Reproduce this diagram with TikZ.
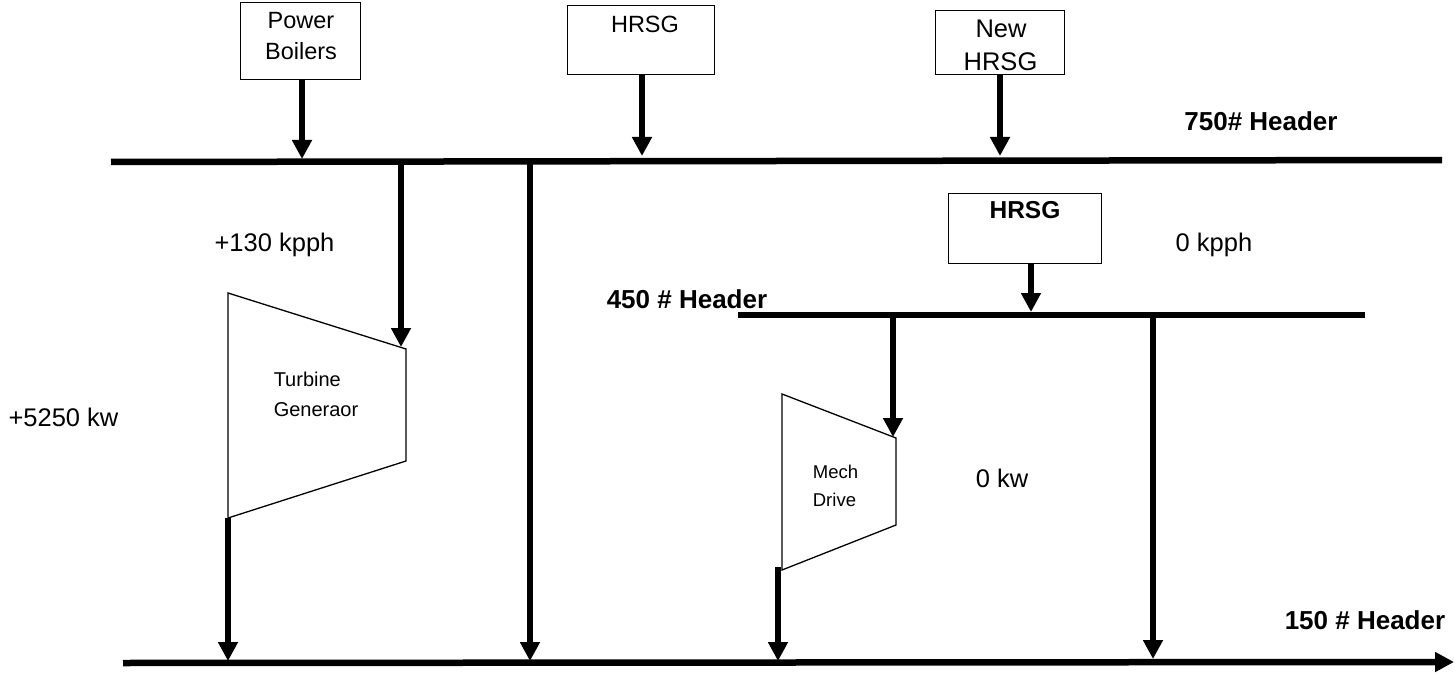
\documentclass[tikz,border=0pt]{standalone}
\usepackage{fontspec}
\setmainfont{Liberation Sans}
\usetikzlibrary{arrows.meta}
\tikzset{
  bx/.style={draw=black,line width=1.3pt,fill=white,inner sep=0pt,anchor=north west},
  lbl/.style={font=\fontsize{25.5}{31}\selectfont,align=center,inner sep=0pt,text=black},
  boxlbl/.style={font=\fontsize{23.5}{31}\selectfont,align=center,inner sep=0pt,text=black},
  boldlbl/.style={font=\fontsize{26}{31}\selectfont\bfseries,inner sep=0pt,text=black},
  small/.style={font=\fontsize{20}{30}\selectfont,align=left,inner sep=0pt,text=black},
  smallb/.style={font=\fontsize{18.5}{28.5}\selectfont,align=left,inner sep=0pt,text=black},
  bus/.style={line width=6.5pt,black},
  flow/.style={line width=6.5pt,black,-{Triangle[width=19pt,length=19pt]}},
  turb/.style={draw=black,line width=1.3pt,fill=white,line join=miter},
}
\begin{document}
\begin{tikzpicture}[x=1pt,y=-1pt]
\useasboundingbox (0,0) rectangle (1454,674);
% buses
\coordinate (h750a) at (111,162);
\coordinate (h750b) at (1442,160);
\coordinate (h450a) at (738,315);
\coordinate (h450b) at (1365,315);
\coordinate (h150a) at (123,663);
\coordinate (h150b) at (1454,662);
\coordinate (t750p) at (302,159);
\coordinate (t750h) at (642,156);
\coordinate (t750n) at (1000,156);
\coordinate (t450h) at (1031,312);
\coordinate (s750a) at (401,162);
\coordinate (s750b) at (530,162);
\coordinate (e150b) at (530,661);
\coordinate (s450a) at (893,315);
\coordinate (s450b) at (1153,315);
\coordinate (e150d) at (1153,659);
\coordinate (e150t) at (228,661);
\coordinate (e150m) at (778,661);
% turbines
\coordinate (ta) at (228,293);
\coordinate (tb) at (406,349);
\coordinate (tc) at (406,461);
\coordinate (td) at (228,518);
\coordinate (ma) at (782,394);
\coordinate (mb) at (896,438);
\coordinate (mc) at (896,525);
\coordinate (mdd) at (782,570);
\coordinate (tIn) at (401,347);
\coordinate (mIn) at (893,437);
\coordinate (tOut) at (228,518);
\coordinate (mOut) at (778,567);
\draw[turb] (ta) -- (tb) -- (tc) -- (td) -- cycle;
\draw[turb] (ma) -- (mb) -- (mc) -- (mdd) -- cycle;
% boxes
\node[bx,minimum width=120pt,minimum height=77pt] (pb) at (240,2) {};
\node[bx,minimum width=147pt,minimum height=69pt] (hrsgA) at (567,5) {};
\node[bx,minimum width=129pt,minimum height=64pt] (hrsgN) at (935,10) {};
\node[bx,minimum width=153pt,minimum height=70pt] (hrsgB) at (948,193) {};
% box labels
\node[boxlbl] (pbt) at (301,36.5) {Power\\Boilers};
\node[boxlbl] (hAt) at (645,24) {HRSG};
\node[lbl] (hNt1) at (1001,29) {New};
\node[lbl] (hNt2) at (1000.5,62) {HRSG};
\node[boldlbl,font=\fontsize{24.5}{28}\selectfont\bfseries] (hBt) at (1025,210) {HRSG};
% buses
\draw[bus] (h750a) -- (h750b);
\draw[bus] (h450a) -- (h450b);
\draw[flow] (h150a) -- (h150b);
% flows
\draw[flow] (pb.south -| t750p) -- (t750p);
\draw[flow] (hrsgA.south -| t750h) -- (t750h);
\draw[flow] (hrsgN.south -| t750n) -- (t750n);
\draw[flow] (hrsgB.south -| t450h) -- (t450h);
\draw[flow] (s750a) -- (tIn);
\draw[flow] (s750b) -- (e150b);
\draw[flow] (s450a) -- (mIn);
\draw[flow] (s450b) -- (e150d);
\draw[flow] (tOut) -- (e150t);
\draw[flow] (mOut) -- (e150m);
% labels
\node[boldlbl] (l750) at (1261,121) {750\# Header};
\node[boldlbl] (l450) at (687,299) {450 \# Header};
\node[boldlbl] (l150) at (1365,620) {150 \# Header};
\node[lbl] (k130) at (274.5,245) {+130 kpph};
\node[lbl] (k0) at (1214,245) {0 kpph};
\node[lbl] (kw5250) at (63.5,417) {+5250 kw};
\node[lbl] (kw0) at (1002,478) {0 kw};
\node[small] (tg) at (316,394) {Turbine\\Generaor};
\node[smallb] (md) at (835.5,486) {Mech\\Drive};
\end{tikzpicture}
\end{document}
